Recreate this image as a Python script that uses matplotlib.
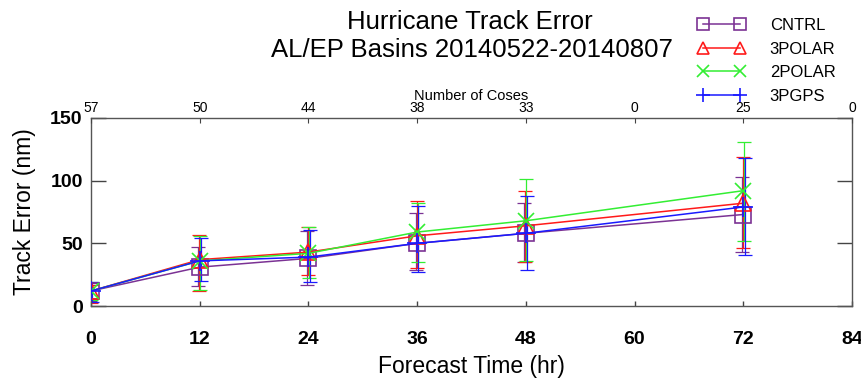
import numpy as np
import matplotlib.pyplot as plt
from matplotlib.ticker import FixedLocator

plt.rcParams['font.family'] = ['Liberation Sans', 'DejaVu Sans']

# forecast lead times (hr) and number of cases on the top axis
lead = [0, 12, 24, 36, 48, 72]
top_ticks = [0, 12, 24, 36, 48, 60, 72, 84]
cases = ['57', '50', '44', '38', '33', '0', '25', '0']

# mean track error (nm) and error-bar extents
cntrl = [12, 31, 38, 50, 58, 73]
cntrl_lo = [4, 16, 17, 29, 35, 43]
cntrl_hi = [18, 47, 60, 74, 82, 103]

polar3 = [12, 37, 43, 56, 64, 82]
polar3_lo = [2, 12, 25, 30, 35, 46]
polar3_hi = [17, 57, 63, 84, 92, 119]

polar2 = [12, 36, 42, 59, 68, 92]
polar2_lo = [5, 13, 22, 35, 36, 52]
polar2_hi = [19, 56, 63, 82, 101, 131]

pgps3 = [12, 36, 39, 50, 58, 79]
pgps3_lo = [3, 20, 19, 27, 29, 41]
pgps3_hi = [19, 54, 61, 80, 88, 118]

series = [
    ('CNTRL', cntrl, cntrl_lo, cntrl_hi, '#7b3294', 's', 12),
    ('3POLAR', polar3, polar3_lo, polar3_hi, '#ff1a1a', '^', 11),
    ('2POLAR', polar2, polar2_lo, polar2_hi, '#33ee33', 'x', 12),
    ('3PGPS', pgps3, pgps3_lo, pgps3_hi, '#1a1aff', '+', 14),
]
offsets = [-0.15, -0.05, 0.05, 0.15]

fig = plt.figure(figsize=(8.61, 3.79), dpi=100)
ax = fig.add_axes([0.1057, 0.1926, 0.8838, 0.4961])

handles = []
for (name, y, lo, hi, col, mk, ms), dx in zip(series, offsets):
    y = np.array(y, dtype=float)
    err = [y - np.array(lo), np.array(hi) - y]
    ax.errorbar(np.array(lead) + dx, y, yerr=err, fmt='none', ecolor=col,
                elinewidth=0.9, capsize=5, capthick=0.9, zorder=2)
    h, = ax.plot(lead, y, color=col, lw=1.1, marker=mk, ms=ms,
                 mfc='none', mec=col, mew=1.2, label=name, zorder=3)
    handles.append(h)

ax.set_xlim(0, 84)
ax.set_ylim(0, 150)
ax.set_xticks([0, 12, 24, 36, 48, 60, 72, 84])
ax.set_yticks([0, 50, 100, 150])
ax.tick_params(axis='x', direction='in', length=3.5, width=1, color='#444444',
               labelsize=14, pad=18)
ax.tick_params(axis='y', direction='in', length=11, width=1, color='#444444',
               labelsize=14, right=True, labelright=False, pad=6)
for lab in ax.get_xticklabels() + ax.get_yticklabels():
    lab.set_fontweight('bold')
for sp in ax.spines.values():
    sp.set_color('#555555')
    sp.set_linewidth(1)

ax.set_xlabel('Forecast Time (hr)', fontsize=16.5, labelpad=5)
ax.set_ylabel('Track Error (nm)', fontsize=16.5, labelpad=10)

top = ax.twiny()
top.set_xlim(ax.get_xlim())
top.xaxis.set_major_locator(FixedLocator(top_ticks))
top.set_xticklabels(cases)
top.tick_params(axis='x', direction='in', length=3.5, color='#444444',
                labelsize=10, pad=2)
top.set_xlabel('Number of Coses', fontsize=10.5, labelpad=1)
for sp in top.spines.values():
    sp.set_visible(False)

fig.text(0.546, 0.942, 'Hurricane Track Error', ha='center', va='center',
         fontsize=18.5)
fig.text(0.548, 0.868, 'AL/EP Basins 20140522-20140807', ha='center',
         va='center', fontsize=18.5)

fig.legend(handles=handles, loc='upper left',
           bbox_to_anchor=(698 / 861, 1 - 18 / 379),
           frameon=False, numpoints=2, handlelength=2.8, fontsize=12,
           markerscale=0.75, labelspacing=0.52, handletextpad=1.5,
           borderpad=0, borderaxespad=0)

fig.savefig('out.png', dpi=100)
